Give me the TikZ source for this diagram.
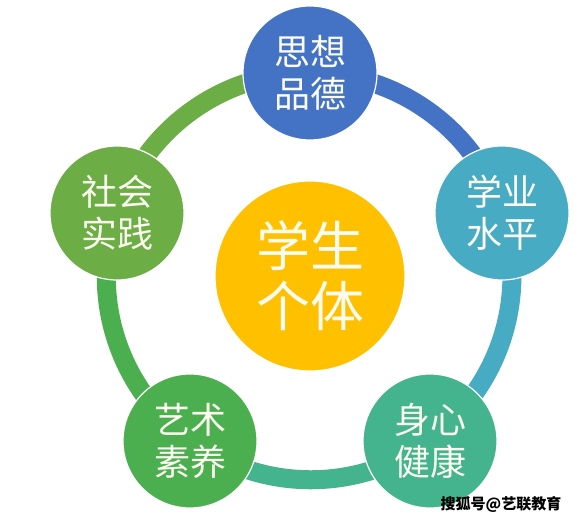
\documentclass[tikz,border=0pt]{standalone}
\usepackage{fontspec}
\newfontfamily\cjk{Noto Sans CJK SC}
\usetikzlibrary{backgrounds}
\definecolor{cblue}{HTML}{4472C4}
\definecolor{cteal}{HTML}{48ABC4}
\definecolor{cmint}{HTML}{43B48E}
\definecolor{cgreen}{HTML}{4BAF50}
\definecolor{colive}{HTML}{6CAD46}
\definecolor{cgold}{HTML}{FFC000}
\definecolor{ctext}{HTML}{FBFBEF}
\begin{document}
\begin{tikzpicture}[x=1pt,y=1pt,
  petal/.style={circle, minimum size=134pt, inner sep=0pt, draw=white, line width=1.2pt,
    text=ctext, font=\cjk\fontsize{36}{42}\selectfont, align=center},
  hub/.style={circle, minimum size=190pt, inner sep=0pt, fill=cgold, draw=white, line width=1.2pt,
    text=ctext, font=\cjk\fontsize{54}{60}\selectfont, align=center},
  seg/.style={line width=19pt},
  wmstyle/.style={text=black, font=\cjk\bfseries\fontsize{15}{15}\selectfont, inner sep=0pt}]
\useasboundingbox (0,0) rectangle (578,522);
\def\R{203}
% nodes
\node[petal, fill=cblue]  (top)  at (310,449) {思想\\品德};
\node[petal, fill=cteal]  (right) at (502,309) {学业\\水平};
\node[petal, fill=cmint]  (br)   at (430,81)  {身心\\健康};
\node[petal, fill=cgreen] (bl)   at (190,81)  {艺术\\素养};
\node[petal, fill=colive] (left) at (117,309) {社会\\实践};
\node[hub] (hub) at (310,246) {学生\\个体};
\node[wmstyle] (wm) at (501,18) {搜狐号@艺联教育};
% ring segments
\begin{scope}[on background layer]
\fill[white] (0,0) rectangle (578,522);
\draw[seg, cblue]  (top.center)   arc[start angle=90,  end angle=18,   radius=\R];
\draw[seg, cteal]  (right.center) arc[start angle=18,  end angle=-54,  radius=\R];
\draw[seg, cmint]  (br.center)    arc[start angle=-54, end angle=-126, radius=\R];
\draw[seg, cgreen] (bl.center)    arc[start angle=234, end angle=162,  radius=\R];
\draw[seg, colive] (left.center)  arc[start angle=162, end angle=90,   radius=\R];
\end{scope}
\end{tikzpicture}
\end{document}
